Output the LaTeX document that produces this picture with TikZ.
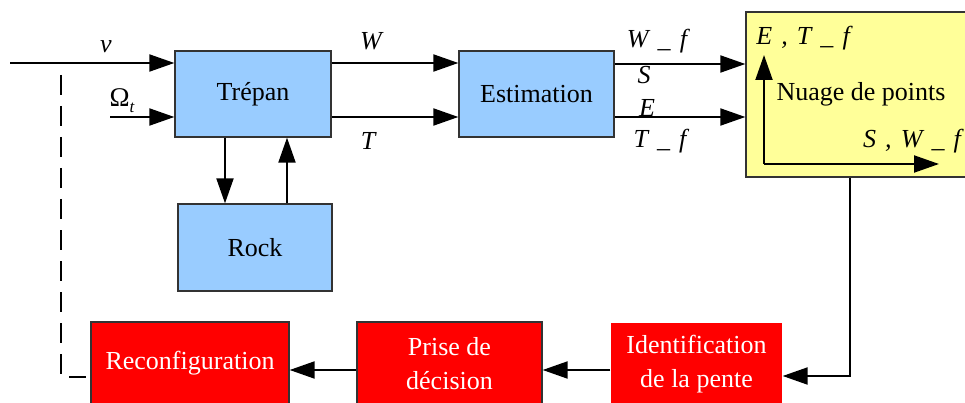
\documentclass[tikz,border=0pt]{standalone}
\usepackage{fontspec}
\setmainfont{Liberation Serif}
\usetikzlibrary{arrows.meta}
\definecolor{bluefill}{HTML}{99CCFF}
\definecolor{yellowfill}{HTML}{FFFF99}
\definecolor{redfill}{HTML}{FF0000}
\definecolor{edge}{HTML}{333333}
\newcommand{\gp}{\hspace{0.35em}}
\begin{document}
\begin{tikzpicture}[x=1pt,y=-1pt,
  blk/.style={draw=edge, line width=1.3pt, inner sep=0pt, font=\fontsize{26}{34}\selectfont, align=center},
  bluebox/.style={blk, fill=bluefill},
  redbox/.style={blk, fill=redfill, text=white},
  arr/.style={line width=2pt, -{Triangle[length=25pt,width=17pt]}},
  dashline/.style={line width=2pt, dash pattern=on 20pt off 11pt},
  lbl/.style={font=\fontsize{26}{26}\selectfont\itshape, inner sep=0pt}
]
\useasboundingbox (0,0) rectangle (965,403);
% blocks
\node[bluebox, minimum width=156pt, minimum height=86pt] (trepan) at (253,94) {Trépan};
\node[bluebox, minimum width=155pt, minimum height=86pt] (estim) at (536.5,94) {Estimation};
\node[bluebox, minimum width=154pt, minimum height=87pt] (rock) at (255,247.5) {Rock};
\node[blk, fill=yellowfill, minimum width=221pt, minimum height=165pt] (nuage) at (856.5,94.5) {};
\node[redbox, minimum width=198pt, minimum height=83pt] (reconf) at (190,363.5) {Reconfiguration};
\node[redbox, minimum width=185pt, minimum height=83pt] (prise) at (449.5,363.5) {Prise de\\décision};
\node[redbox, draw=none, minimum width=171pt, minimum height=82pt] (ident) at (696.5,364) {Identification\\de la pente};
\node[font=\fontsize{26}{26}\selectfont, inner sep=0pt] (nuagetxt) at (861,94) {Nuage de points};
% coordinates
\coordinate (vin) at (10,63);
\coordinate (win) at (110,117);
\coordinate (sy) at (0,64);
\coordinate (d1) at (225,0);
\coordinate (d2) at (287,0);
\coordinate (d3) at (850,376);
\coordinate (d4) at (0,370);
\coordinate (f1) at (61,75);
\coordinate (f2) at (61,377);
\coordinate (o) at (764,164);
\coordinate (ya) at (764,55);
\coordinate (xa) at (939,164);
% connectors
\draw[arr] (vin) -- (vin -| trepan.west);
\draw[arr] (win) -- (win -| trepan.west);
\draw[arr] (trepan.east |- vin) -- (estim.west |- vin);
\draw[arr] (trepan.east |- win) -- (estim.west |- win);
\draw[arr] (estim.east |- sy) -- (nuage.west |- sy);
\draw[arr] (estim.east |- win) -- (nuage.west |- win);
\draw[arr] (trepan.south -| d1) -- (rock.north -| d1);
\draw[arr] (rock.north -| d2) -- (trepan.south -| d2);
\draw[arr] (nuage.south -| d3) -- (d3) -- (ident.east |- d3);
\draw[arr] (ident.west |- d4) -- (prise.east |- d4);
\draw[arr] (prise.west |- d4) -- (reconf.east |- d4);
\draw[dashline, shorten >=4pt] (f1) -- (f2) -- (reconf.west |- f2);
\draw[arr] (o) -- (ya);
\draw[arr] (o) -- (xa);
% labels
\node[lbl] (lv) at (106,47) {v};
\node[font=\fontsize{27}{27}\selectfont, inner sep=0pt] (lom) at (122,101) {Ω\raisebox{-6pt}{\fontsize{17}{17}\selectfont\itshape t}};
\node[lbl] (lw) at (371,41) {W};
\node[lbl] (lt) at (368,141) {T};
\node[lbl] (lwf) at (657,41) {W\gp\_\gp f};
\node[lbl] (ls) at (644,75) {S};
\node[lbl] (le) at (647,108) {E};
\node[lbl] (ltf) at (660,141) {T\gp\_\gp f};
\node[lbl] (let) at (803,38) {E\gp,\gp T\gp\_\gp f};
\node[lbl] (lsw) at (912,141) {S\gp,\gp W\gp\_\gp f};
\end{tikzpicture}
\end{document}
